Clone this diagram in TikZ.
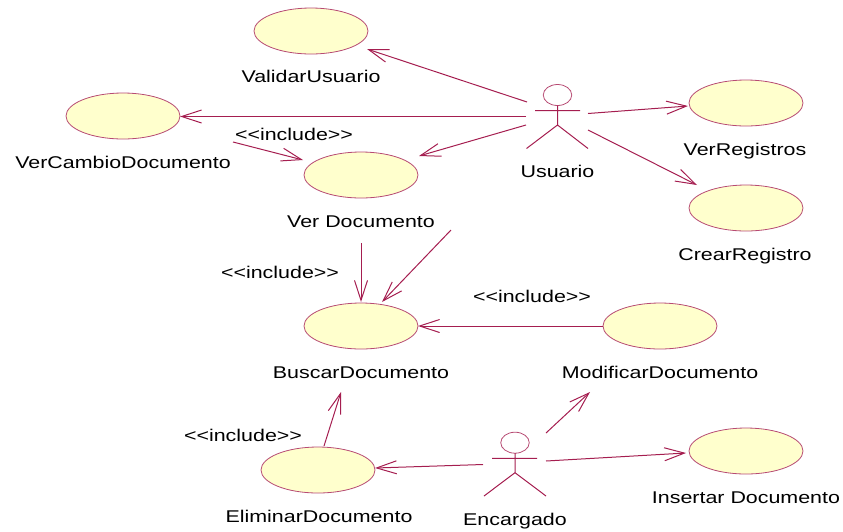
\documentclass[tikz,border=0pt]{standalone}
\usepackage{fontspec}
\setmainfont[FakeStretch=1.26]{Liberation Sans}
\usetikzlibrary{arrows.meta,shapes.geometric}
\definecolor{umlline}{RGB}{165,30,80}
\definecolor{umlfill}{RGB}{255,255,205}
\tikzset{
  usecase/.style={ellipse,draw=umlline!80,fill=umlfill,line width=0.8pt,minimum width=114pt,minimum height=46pt,inner sep=0pt},
  assoc/.style={draw=umlline,line width=1pt,-{Straight Barb[length=20pt,width=13pt,line width=1pt]}},
  actorline/.style={draw=umlline,line width=1pt},
  head/.style={ellipse,draw=umlline!80,line width=0.8pt,minimum width=28.5pt,minimum height=21pt,inner sep=0pt},
  lbl/.style={text=black,font=\fontsize{17}{20}\selectfont,inner sep=0pt,anchor=center,text height=14.5pt,text depth=1.5pt}
}
\newcommand{\incl}{<{}<include>{}>}
\begin{document}
\begin{tikzpicture}[x=1pt,y=-1pt]
\useasboundingbox (0,0) rectangle (843,531);
% use cases
\node[usecase] (validar) at (311,31) {};
\node[usecase] (cambio) at (123,116) {};
\node[usecase] (verdoc) at (361,175) {};
\node[usecase] (registros) at (746,103) {};
\node[usecase] (crear) at (746,208) {};
\node[usecase] (buscar) at (361,326) {};
\node[usecase] (modificar) at (660,326) {};
\node[usecase] (eliminar) at (318,470) {};
\node[usecase] (insertar) at (746,451) {};
% labels
\node[lbl] (tvalidar) at (311,76) {ValidarUsuario};
\node[lbl] (tcambio) at (123,162) {VerCambioDocumento};
\node[lbl] (tverdoc) at (361,221) {Ver Documento};
\node[lbl] (tregistros) at (745,149) {VerRegistros};
\node[lbl] (tcrear) at (745,254) {CrearRegistro};
\node[lbl] (tbuscar) at (361,372) {BuscarDocumento};
\node[lbl] (tmodificar) at (660,372) {ModificarDocumento};
\node[lbl] (teliminar) at (319,516) {EliminarDocumento};
\node[lbl] (tinsertar) at (746,497) {Insertar Documento};
\node[lbl] (tusuario) at (557.5,171) {Usuario};
\node[lbl] (tencargado) at (515,519) {Encargado};
\node[lbl] (inc1) at (294,134) {\incl};
\node[lbl] (inc2) at (280,272) {\incl};
\node[lbl] (inc3) at (532,296) {\incl};
\node[lbl] (inc4) at (243,435) {\incl};
% actors
\node[head] (uhead) at (557.5,95) {};
\coordinate (uneck) at (557.5,105.5);
\coordinate (uhip) at (557.5,125);
\coordinate (uarml) at (535,110.7);
\coordinate (uarmr) at (580,110.7);
\coordinate (ulegl) at (526.5,148.5);
\coordinate (ulegr) at (588,148.5);
\draw[actorline] (uneck) -- (uhip) (uarml) -- (uarmr) (ulegl) -- (uhip) -- (ulegr);
\node[head] (ehead) at (515,442.7) {};
\coordinate (eneck) at (515,453.2);
\coordinate (ehip) at (515,472.7);
\coordinate (earml) at (492,458.3);
\coordinate (earmr) at (537,458.3);
\coordinate (elegl) at (484,496);
\coordinate (elegr) at (546,496);
\draw[actorline] (eneck) -- (ehip) (earml) -- (earmr) (elegl) -- (ehip) -- (elegr);
% free ends
\coordinate (a1s) at (527,102); \coordinate (a1e) at (367,49);
\coordinate (a2s) at (526,116.5); \coordinate (a2e) at (180,116.5);
\coordinate (a3s) at (526,125); \coordinate (a3e) at (419,156);
\coordinate (a4s) at (588,113.5); \coordinate (a4e) at (688,106);
\coordinate (a5s) at (588,130); \coordinate (a5e) at (697,185);
\coordinate (a6s) at (233,142); \coordinate (a6e) at (303,160);
\coordinate (a7s) at (361,243); \coordinate (a7e) at (361,302);
\coordinate (a8s) at (451,230); \coordinate (a8e) at (382,302);
\coordinate (a9s) at (603,326); \coordinate (a9e) at (418,326);
\coordinate (a10s) at (324,446); \coordinate (a10e) at (341,392);
\coordinate (a11s) at (483,464.5); \coordinate (a11e) at (375,468);
\coordinate (a12s) at (546,433); \coordinate (a12e) at (590,392);
\coordinate (a13s) at (546,461); \coordinate (a13e) at (686,453);
\foreach \i in {1,...,13} \draw[assoc] (a\i s) -- (a\i e);
\end{tikzpicture}
\end{document}
